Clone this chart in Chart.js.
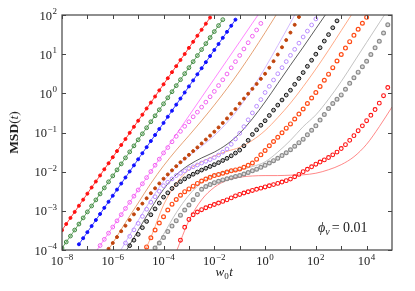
<!DOCTYPE html>
<html>
<head>
<meta charset="utf-8">
<script src="https://cdn.jsdelivr.net/npm/chart.js@4.4.1/dist/chart.umd.min.js"></script>
<style>
  html, body { margin: 0; padding: 0; background: #fff; }
  canvas { display: block; }
</style>
</head>
<body>
<canvas id="msdChart" width="415" height="291"></canvas>
<script>
// ---- data ---------------------------------------------------------------
// sampling times of the simulation points (6 per decade)
const times = [
  1e-8, 1.468e-8, 2.154e-8, 3.162e-8, 4.642e-8, 6.813e-8,
  1e-7, 1.468e-7, 2.154e-7, 3.162e-7, 4.642e-7, 6.813e-7,
  1e-6, 1.468e-6, 2.154e-6, 3.162e-6, 4.642e-6, 6.813e-6,
  1e-5, 1.468e-5, 2.154e-5, 3.162e-5, 4.642e-5, 6.813e-5,
  1e-4, 1.468e-4, 2.154e-4, 3.162e-4, 4.642e-4, 6.813e-4,
  1e-3, 1.468e-3, 2.154e-3, 3.162e-3, 4.642e-3, 6.813e-3,
  1e-2, 1.468e-2, 2.154e-2, 3.162e-2, 4.642e-2, 6.813e-2,
  0.1, 0.1468, 0.2154, 0.3162, 0.4642, 0.6813,
  1, 1.468, 2.154, 3.162, 4.642, 6.813,
  10, 14.68, 21.54, 31.62, 46.42, 68.13,
  100, 146.8, 215.4, 316.2, 464.2, 681.3,
  1e3, 1468, 2154, 3162, 4642, 6813,
  1e4, 14680, 21540, 31620, 46420, 68130,
  1e5
];
// times of the theory curves (half decades)
const lineTimes = [
  1e-8, 3.162e-8, 1e-7, 3.162e-7, 1e-6, 3.162e-6, 1e-5, 3.162e-5, 1e-4, 3.162e-4,
  1e-3, 3.162e-3, 1e-2, 3.162e-2, 0.1, 0.3162, 1, 3.162, 10, 31.62,
  100, 316.2, 1e3, 3162, 1e4, 31620, 1e5
];

// simulation points, each list starts at the given index of `times`
const msdRedFilled = [3.2e-4,4.6e-4,6.6e-4,9.4e-4,1.35e-3,1.93e-3,2.75e-3,3.94e-3,5.6e-3,8.0e-3,1.15e-2,1.64e-2,2.34e-2,3.35e-2,4.8e-2,6.8e-2,9.8e-2,0.14,0.2,0.285,0.41,0.58,0.83,1.19,1.7,2.43,3.47,4.95,7.1,10.1,14.5,20.7,29.5,42,60,86];
const msdGreen = [1.12e-4,1.6e-4,2.27e-4,3.24e-4,4.6e-4,6.6e-4,9.4e-4,1.33e-3,1.9e-3,2.7e-3,3.85e-3,5.5e-3,7.8e-3,1.11e-2,1.58e-2,2.25e-2,3.2e-2,4.56e-2,6.5e-2,9.25e-2,0.132,0.188,0.267,0.38,0.54,0.77,1.1,1.57,2.23,3.18,4.52,6.44,9.2,13.1,18.6,26.5,37.7,53.7,76];
const msdBlue = [1.4e-4,2.0e-4,2.86e-4,4.08e-4,5.83e-4,8.3e-4,1.19e-3,1.7e-3,2.43e-3,3.48e-3,4.97e-3,7.1e-3,1.01e-2,1.45e-2,2.07e-2,2.96e-2,4.23e-2,6.04e-2,8.63e-2,0.123,0.176,0.252,0.36,0.514,0.735,1.05,1.5,2.14,3.06,4.38,6.25,8.93,12.8,18.2,26.1,37.2,53.2,76];
const msdMagenta = [1.3e-4,1.87e-4,2.69e-4,3.86e-4,5.55e-4,7.98e-4,1.15e-3,1.65e-3,2.37e-3,3.41e-3,4.9e-3,7.05e-3,1.01e-2,1.46e-2,2.09e-2,3.01e-2,4.13e-2,5.8e-2,7.98e-2,0.107,0.144,0.188,0.252,0.331,0.445,0.596,0.818,1.12,1.58,2.22,3.12,4.48,6.44,9.27,13.6,19.6,28.8,41.4,61];
const msdBrown = [1.07e-4,1.51e-4,2.14e-4,3.02e-4,4.17e-4,5.82e-4,8.13e-4,1.12e-3,1.53e-3,2.09e-3,2.82e-3,3.76e-3,5.01e-3,6.61e-3,8.51e-3,1.08e-2,1.38e-2,1.74e-2,2.16e-2,2.69e-2,3.35e-2,4.17e-2,5.25e-2,6.61e-2,8.32e-2,0.105,0.135,0.176,0.229,0.302,0.398,0.55,0.733,0.977,1.3,1.74,2.34,3.16,4.52,6.61,9.77,15,22.9,35.5,56.2,89];
const msdPurple = [1.51e-4,2.24e-4,3.27e-4,4.79e-4,7.24e-4,1.1e-3,1.66e-3,2.29e-3,3.16e-3,4.37e-3,5.37e-3,6.53e-3,7.94e-3,9.12e-3,1.05e-2,1.2e-2,1.33e-2,1.48e-2,1.66e-2,1.84e-2,2.04e-2,2.29e-2,2.66e-2,3.16e-2,3.8e-2,5.01e-2,6.84e-2,9.55e-2,0.141,0.211,0.316,0.468,0.692,1.05,1.51,2.19,3.16,4.52,6.46,9.33,13.3,19.1,27.5,38.9,55.6,79.4];
const msdBlack = [1.29e-4,1.78e-4,2.51e-4,3.72e-4,5.37e-4,7.94e-4,1.12e-3,1.58e-3,2.24e-3,2.88e-3,3.72e-3,4.68e-3,5.56e-3,6.53e-3,7.59e-3,8.61e-3,9.77e-3,1.1e-2,1.22e-2,1.36e-2,1.51e-2,1.7e-2,1.93e-2,2.19e-2,2.54e-2,2.99e-2,3.55e-2,4.57e-2,6.31e-2,8.91e-2,0.117,0.153,0.2,0.272,0.372,0.501,0.676,0.902,1.2,1.7,2.4,3.39,4.9,7.0,10,14.6,21.6,31.6,47.3,70.8];
const msdOrange = [1.2e-4,2.04e-4,3.24e-4,4.9e-4,7.08e-4,1.05e-3,1.48e-3,1.95e-3,2.51e-3,3.09e-3,3.63e-3,4.27e-3,5.01e-3,5.75e-3,6.46e-3,7.16e-3,7.94e-3,8.51e-3,9.12e-3,9.77e-3,1.05e-2,1.11e-2,1.17e-2,1.29e-2,1.45e-2,1.66e-2,2.09e-2,2.69e-2,3.47e-2,4.57e-2,5.89e-2,7.59e-2,9.89e-2,0.129,0.166,0.221,0.295,0.398,0.55,0.759,1.05,1.5,2.16,3.09,4.52,6.68,9.77,14.3,20.9,30.2,43.2,61.7,87.1];
const msdGray = [1.12e-4,1.51e-4,2.09e-4,2.95e-4,4.07e-4,5.62e-4,7.76e-4,1.05e-3,1.41e-3,1.91e-3,2.63e-3,3.55e-3,4.17e-3,4.68e-3,5.25e-3,5.69e-3,6.17e-3,6.61e-3,7.0e-3,7.5e-3,7.94e-3,8.71e-3,9.55e-3,1.05e-2,1.16e-2,1.29e-2,1.45e-2,1.66e-2,1.91e-2,2.19e-2,2.57e-2,3.05e-2,3.63e-2,4.47e-2,5.5e-2,6.76e-2,8.71e-2,0.114,0.148,0.207,0.288,0.407,0.55,0.708,0.912,1.27,1.8,2.51,3.47,4.79,6.61,9.77,14.5,21.4,34.7,56.2];
const msdRedOpen = [1.78e-4,3.8e-4,6.03e-4,7.94e-4,9.33e-4,1.07e-3,1.2e-3,1.32e-3,1.45e-3,1.58e-3,1.74e-3,1.91e-3,2.14e-3,2.4e-3,2.62e-3,2.85e-3,3.07e-3,3.31e-3,3.55e-3,3.8e-3,4.07e-3,4.37e-3,4.68e-3,5.01e-3,5.43e-3,5.89e-3,6.46e-3,7.41e-3,8.51e-3,1.0e-2,1.15e-2,1.33e-2,1.55e-2,1.76e-2,2.0e-2,2.29e-2,2.69e-2,3.16e-2,3.89e-2,4.9e-2,6.31e-2,8.32e-2,0.111,0.148,0.2,0.275,0.385,0.562,0.871,1.41];

// theory curves, each list starts at the given index of `lineTimes`
const fitMagenta = [4.4e-5,1.3e-4,3.86e-4,1.15e-3,3.41e-3,1.01e-2,3.01e-2,8.95e-2,0.266,0.79,2.35,6.98,20.7,61.7,183];
const fitBrown = [5.0e-5,1.51e-4,5.0e-4,1.58e-3,5.01e-3,1.41e-2,3.55e-2,8.32e-2,0.2,0.501,1.32,3.72,11.2,35.5,117];
const fitPurple = [4.47e-5,1.58e-4,5.62e-4,1.91e-3,5.62e-3,1.32e-2,2.51e-2,4.47e-2,8.32e-2,0.178,0.447,1.32,4.47,16.6,63.1,251];
const fitBlack = [8.91e-5,3.16e-4,1.12e-3,3.55e-3,8.32e-3,1.48e-2,2.24e-2,3.16e-2,5.01e-2,9.55e-2,0.224,0.603,1.78,5.25,15.1,44.7,132];
const fitOrange = [3.98e-5,2.09e-4,1.41e-3,5.01e-3,1.12e-2,1.78e-2,2.51e-2,3.31e-2,4.17e-2,6.31e-2,0.112,0.24,0.562,1.48,4.17,12.6,39.8,126];
const fitGray = [7.08e-5,2.51e-4,8.91e-4,2.51e-3,5.25e-3,8.32e-3,1e-2,1.12e-2,1.35e-2,1.78e-2,3.16e-2,6.31e-2,0.141,0.282,0.708,2.0,6.31,20,63.1,200];
const fitRedOpen = [8.91e-5,5.62e-4,1.91e-3,3.98e-3,6.03e-3,7.24e-3,7.76e-3,7.94e-3,7.94e-3,8.13e-3,8.32e-3,9.12e-3,1.12e-2,1.51e-2,2.4e-2,5.01e-2,0.141,0.447];

// axis decades
const xTickExps = [-8, -7, -6, -5, -4, -3, -2, -1, 0, 1, 2, 3, 4];
const xLabelExps = [-8, -6, -4, -2, 0, 2, 4];
const yTickExps = [-4, -3, -2, -1, 0, 1, 2];

// ---- helpers -------------------------------------------------------------
const SERIF = '"Liberation Serif", "DejaVu Serif", serif';

function pts(xs, ys, from) {
  return ys.map((y, k) => ({ x: xs[from + k], y }));
}

function markerSet(ys, from, color, fill, opts) {
  return Object.assign({
    data: pts(times, ys, from),
    showLine: false,
    pointStyle: 'circle',
    pointRadius: 1.9,
    borderColor: color,
    pointBorderColor: color,
    pointBackgroundColor: fill,
    pointBorderWidth: 1,
    order: 1
  }, opts || {});
}

function fitSet(ys, from, color) {
  return {
    data: pts(lineTimes, ys, from),
    showLine: true,
    borderColor: color,
    borderWidth: 0.8,
    pointRadius: 0,
    cubicInterpolationMode: 'monotone',
    order: 2
  };
}

function drawPow(ctx, exp, x, yBase, align) {
  const sup = exp < 0 ? '\u2212' + (-exp) : String(exp);
  ctx.font = '12.5px ' + SERIF;
  const wb = ctx.measureText('10').width;
  ctx.font = '9px ' + SERIF;
  const ws = ctx.measureText(sup).width;
  const w = wb + ws + 0.5;
  const x0 = align === 'center' ? x - w / 2 : x - w;
  ctx.font = '12.5px ' + SERIF;
  ctx.fillText('10', x0, yBase);
  ctx.font = '9px ' + SERIF;
  ctx.fillText(sup, x0 + wb + 0.5, yBase - 5.5);
}

// frame, inward ticks, tick labels and titles
const decorations = {
  id: 'decorations',
  afterDraw(chart) {
    const { ctx, chartArea: a, scales: { x, y } } = chart;
    ctx.save();
    ctx.strokeStyle = '#444';
    ctx.lineWidth = 1.2;
    ctx.strokeRect(a.left, a.top, a.right - a.left, a.bottom - a.top);

    ctx.lineWidth = 1;
    ctx.beginPath();
    xTickExps.forEach(e => {
      const px = Math.round(x.getPixelForValue(Math.pow(10, e))) + 0.5;
      ctx.moveTo(px, a.bottom); ctx.lineTo(px, a.bottom - 4);
      ctx.moveTo(px, a.top); ctx.lineTo(px, a.top + 4);
    });
    yTickExps.forEach(e => {
      const py = Math.round(y.getPixelForValue(Math.pow(10, e))) + 0.5;
      ctx.moveTo(a.left, py); ctx.lineTo(a.left + 4, py);
      ctx.moveTo(a.right, py); ctx.lineTo(a.right - 4, py);
    });
    ctx.stroke();

    ctx.fillStyle = '#222';
    ctx.textBaseline = 'alphabetic';
    ctx.textAlign = 'left';
    xLabelExps.forEach(e => drawPow(ctx, e, x.getPixelForValue(Math.pow(10, e)), 265, 'center'));
    yTickExps.forEach(e => drawPow(ctx, e, 57, y.getPixelForValue(Math.pow(10, e)) + 4.5, 'right'));

    // x title: w0 t
    ctx.font = 'italic 13px ' + SERIF;
    const ww = ctx.measureText('w').width;
    const wt = ctx.measureText('t').width;
    ctx.font = '9px ' + SERIF;
    const w0 = ctx.measureText('0').width;
    let xs = 224 - (ww + w0 + wt) / 2;
    ctx.font = 'italic 13px ' + SERIF;
    ctx.fillText('w', xs, 276);
    ctx.font = '9px ' + SERIF;
    ctx.fillText('0', xs + ww, 279);
    ctx.font = 'italic 13px ' + SERIF;
    ctx.fillText('t', xs + ww + w0 + 0.5, 276);

    // y title: MSD(t)
    ctx.save();
    ctx.translate(18, (a.top + a.bottom) / 2);
    ctx.rotate(-Math.PI / 2);
    ctx.font = 'bold 13.5px ' + SERIF;
    const wm = ctx.measureText('MSD').width;
    ctx.font = '13.5px ' + SERIF;
    const wp = ctx.measureText('(').width;
    ctx.font = 'italic 13.5px ' + SERIF;
    const wti = ctx.measureText('t').width;
    let ys = -(wm + 2 * wp + wti) / 2;
    ctx.font = 'bold 13.5px ' + SERIF;
    ctx.fillText('MSD', ys, 0); ys += wm;
    ctx.font = '13.5px ' + SERIF;
    ctx.fillText('(', ys, 0); ys += wp;
    ctx.font = 'italic 13.5px ' + SERIF;
    ctx.fillText('t', ys, 0); ys += wti;
    ctx.font = '13.5px ' + SERIF;
    ctx.fillText(')', ys, 0);
    ctx.restore();

    // annotation phi_v = 0.01
    let px = 318;
    ctx.font = 'italic 14px ' + SERIF;
    ctx.fillText('\u03d5', px, 232); px += ctx.measureText('\u03d5').width;
    ctx.font = 'italic 10px ' + SERIF;
    ctx.fillText('v', px, 235); px += ctx.measureText('v').width + 2;
    ctx.font = '14px ' + SERIF;
    ctx.fillText('= 0.01', px, 232);
    ctx.restore();
  }
};

new Chart(document.getElementById('msdChart'), {
  type: 'scatter',
  data: {
    datasets: [
      markerSet(msdRedFilled, 0, '#ff1010', '#ff1010', { showLine: true, borderWidth: 0.8, pointRadius: 1.5 }),
      markerSet(msdGreen, 0, '#3f8a3f', 'rgba(63,138,63,0.2)', { showLine: true, borderWidth: 0.8 }),
      markerSet(msdBlue, 4, '#1010ff', '#1010ff', { showLine: true, borderWidth: 0.8, pointRadius: 1.5 }),
      markerSet(msdMagenta, 9, '#f060f0', 'rgba(255,255,255,0)'),
      markerSet(msdBrown, 11, '#c0440c', '#c0440c', { pointRadius: 1.5 }),
      markerSet(msdPurple, 15, '#b98cff', 'rgba(255,255,255,0)'),
      markerSet(msdBlack, 16, '#111111', 'rgba(0,0,0,0.25)'),
      markerSet(msdOrange, 20, '#ff4a14', 'rgba(255,255,255,0)', { pointBorderWidth: 1.2 }),
      markerSet(msdGray, 22, '#8c8c8c', 'rgba(140,140,140,0.3)', { pointBorderWidth: 1.2 }),
      markerSet(msdRedOpen, 28, '#ff1010', 'rgba(255,255,255,0)', { pointBorderWidth: 1.1 }),
      fitSet(fitMagenta, 2, '#ff66ff'),
      fitSet(fitBrown, 3, '#e08a52'),
      fitSet(fitPurple, 4, '#c8a8ff'),
      fitSet(fitBlack, 5, '#333333'),
      fitSet(fitOrange, 6, '#ff9468'),
      fitSet(fitGray, 7, '#b4b4b4'),
      fitSet(fitRedOpen, 9, '#ff6a6a')
    ]
  },
  options: {
    responsive: false,
    devicePixelRatio: 1,
    animation: false,
    events: [],
    layout: { padding: { top: 15, right: 23, left: 0, bottom: 0 } },
    plugins: { legend: { display: false }, tooltip: { enabled: false } },
    scales: {
      x: {
        type: 'logarithmic', min: 1e-8, max: 1e5,
        ticks: { display: false }, grid: { display: false }, border: { display: false },
        afterFit(s) { s.height = 41; }
      },
      y: {
        type: 'logarithmic', min: 1e-4, max: 1e2,
        ticks: { display: false }, grid: { display: false }, border: { display: false },
        afterFit(s) { s.width = 62; }
      }
    }
  },
  plugins: [decorations]
});
</script>
</body>
</html>
